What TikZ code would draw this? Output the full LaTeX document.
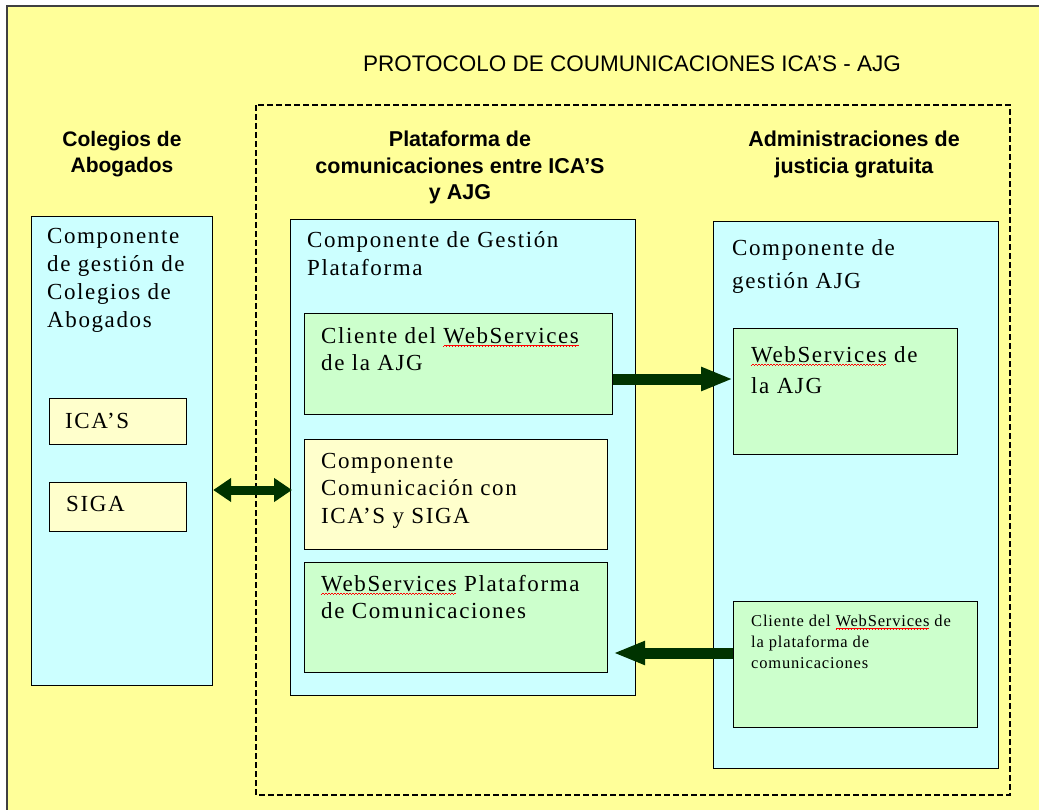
\documentclass[tikz,border=0pt]{standalone}
\usepackage{fontspec}
\setmainfont{Liberation Serif}
\newfontfamily\hdrfont{Liberation Sans}
\newfontfamily\bodyfont{Liberation Serif}[LetterSpace=7]
\newfontfamily\smallfont{Liberation Serif}[LetterSpace=5]
\usetikzlibrary{arrows.meta}
\definecolor{bgyellow}{HTML}{FFFF99}
\definecolor{boxcyan}{HTML}{CCFFFF}
\definecolor{boxgreen}{HTML}{CCFFCC}
\definecolor{boxcream}{HTML}{FFFFCC}
\definecolor{arrowgreen}{HTML}{003300}
\definecolor{spellred}{HTML}{FF0000}
\newsavebox\wavebox
\newcommand\squig[1]{\setbox0\hbox{#1}\rlap{\lower3pt\hbox to \wd0{\leaders\copy\wavebox\hfill}}\box0\relax}
\begin{document}
\sbox\wavebox{\color{spellred}\rule[0pt]{0.75pt}{0.5pt}\rule[0.5pt]{0.75pt}{0.5pt}\rule[1pt]{0.75pt}{0.5pt}\rule[0.5pt]{0.75pt}{0.5pt}}%
\begin{tikzpicture}[x=1pt,y=-1pt,
  panel/.style={draw=black, line width=1.2pt, fill=boxcyan, inner sep=0pt, anchor=north west},
  inner/.style={draw=black, line width=1.2pt, inner sep=0pt, anchor=north west},
  body/.style={font=\bodyfont\fontsize{23}{27.5}\selectfont, align=left, inner sep=0pt, anchor=base west},
  smalltext/.style={font=\smallfont\fontsize{16.5}{21}\selectfont, align=left, inner sep=0pt, anchor=base west},
  heading/.style={font=\hdrfont\bfseries\fontsize{21.5}{26.5}\selectfont, align=center, inner sep=0pt, anchor=base},
  bigarrow/.style={line width=11pt, draw=arrowgreen, -{Triangle[length=32pt,width=22pt]}},
  dblarrow/.style={line width=9pt, draw=arrowgreen, {Triangle[length=18pt,width=23pt]}-{Triangle[length=18pt,width=23pt]}}
]
\useasboundingbox (0,0) rectangle (1039,810);
\fill[white] (0,0) rectangle (1039,810);
\fill[bgyellow] (7,6) rectangle (1039,810);
\draw[line width=2pt, draw=black!75] (7,810) -- (7,6) -- (1039,6);

% title and headings (anchor = baseline of the last line)
\node[font=\hdrfont\fontsize{22.5}{26}\selectfont, inner sep=0pt, anchor=base] (title) at (632,72) {PROTOCOLO DE COUMUNICACIONES ICA’S - AJG};
\node[heading, font=\hdrfont\bfseries\fontsize{21}{25.5}\selectfont] (hcol) at (122,172.5) {Colegios de\\Abogados};
\node[heading] (hplat) at (460,200) {Plataforma de\\comunicaciones entre ICA’S\\y AJG};
\node[heading] (hajg) at (854,173.5) {Administraciones de\\justicia gratuita};

% dashed region
\draw[line width=1.2pt, dash pattern=on 6pt off 3pt] (256,105) rectangle (1010,795);

% Colegios de Abogados
\node[panel, minimum width=181pt, minimum height=469pt] (colegios) at (31,216) {};
\node[body, font=\bodyfont\fontsize{23}{28}\selectfont] (tcol) at (47,327) {Componente\\de gestión de\\Colegios de\\Abogados};
\node[inner, fill=boxcream, minimum width=137pt, minimum height=46pt] (icas) at (49,398) {};
\node[body] (ticas) at (65,428) {ICA’S};
\node[inner, fill=boxcream, minimum width=137pt, minimum height=49pt] (siga) at (49,482) {};
\node[body] (tsiga) at (66,511) {SIGA};

% Plataforma
\node[panel, minimum width=345pt, minimum height=476pt] (plat) at (290,219) {};
\node[body, font=\bodyfont\fontsize{23}{28}\selectfont] (tplat) at (307,276) {Componente de Gestión\\Plataforma};
\node[inner, fill=boxgreen, minimum width=308pt, minimum height=101pt] (cliente) at (304,313) {};
\node[body] (tcliente) at (321,370.5) {Cliente del \squig{WebServices}\\de la AJG};
\node[inner, fill=boxcream, minimum width=303pt, minimum height=110pt] (compcom) at (304,439) {};
\node[body] (tcompcom) at (321,523) {Componente\\Comunicación con\\ICA’S y SIGA};
\node[inner, fill=boxgreen, minimum width=303pt, minimum height=110pt] (wsplat) at (304,562) {};
\node[body] (twsplat) at (321,618.5) {\squig{WebServices} Plataforma\\de Comunicaciones};

% AJG
\node[panel, minimum width=285pt, minimum height=547pt] (ajg) at (713,221) {};
\node[body, font=\bodyfont\fontsize{23}{32.5}\selectfont] (tajg) at (732,288.5) {Componente de\\gestión AJG};
\node[inner, fill=boxgreen, minimum width=224pt, minimum height=126pt] (wsajg) at (733,328) {};
\node[body, font=\bodyfont\fontsize{23}{31}\selectfont] (twsajg) at (751,393) {\squig{WebServices} de\\la AJG};
\node[inner, fill=boxgreen, minimum width=244pt, minimum height=126pt] (cliplat) at (733,601) {};
\node[smalltext] (tcliplat) at (751,668) {Cliente del \squig{WebServices} de\\la plataforma de\\comunicaciones};

% arrows
\coordinate (ya) at (0,379);
\coordinate (yb) at (0,653);
\coordinate (yc) at (0,490);
\draw[bigarrow] (cliente.east |- ya) -- (wsajg.west |- ya);
\draw[bigarrow] (cliplat.west |- yb) -- ([xshift=5pt]wsplat.east |- yb);
\draw[dblarrow] (colegios.east |- yc) -- ([xshift=2pt]plat.west |- yc);
\end{tikzpicture}
\end{document}
